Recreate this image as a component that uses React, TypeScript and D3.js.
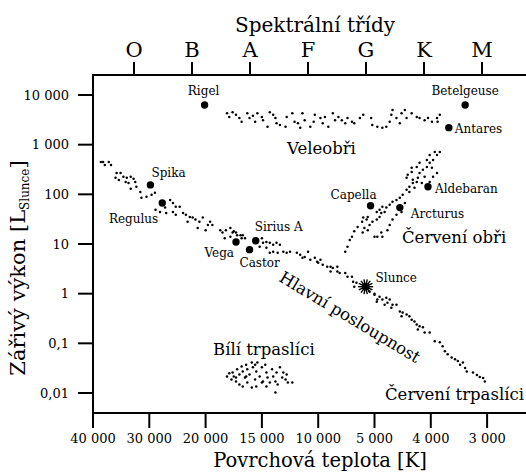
import React from 'react';
import * as d3 from 'd3';

// axis ticks
const tempTicks = [40000, 30000, 20000, 15000, 10000, 5000, 4000, 3000];
const tempTickLabels = ['40 000', '30 000', '20 000', '15 000', '10 000', '5 000', '4 000', '3 000'];
const lumTicks = [10000, 1000, 100, 10, 1, 0.1, 0.01];
const lumTickLabels = ['10 000', '1 000', '100', '10', '1', '0,1', '0,01'];
const spectralClasses = ['O', 'B', 'A', 'F', 'G', 'K', 'M'];

// [temperature K, luminosity L_sun]
const mainSequence: [number, number][] = [
  [38600, 450], [38200, 450], [37900, 390], [37200, 450], [36800, 390],
  [35800, 270], [35100, 270], [36000, 215], [35400, 195], [34600, 225],
  [34000, 215], [33300, 225], [32800, 205], [32500, 178], [33700, 170],
  [34200, 178], [33300, 130], [32300, 142], [31600, 112], [31400, 85],
  [30500, 89], [29600, 98], [29000, 107], [26300, 77], [25800, 67],
  [25300, 56], [24600, 56], [28900, 49], [28100, 44], [27200, 54],
  [27000, 42], [25800, 44], [25300, 39], [24000, 42], [23500, 39],
  [22800, 35], [22300, 34], [23200, 28], [21800, 31], [21100, 28],
  [20500, 34], [19600, 28], [19800, 24], [21400, 21], [20000, 19],
  [19400, 24], [18700, 19], [18500, 17], [18200, 19], [17800, 21],
  [17500, 18], [18300, 13], [17300, 17], [16900, 15], [16800, 13],
  [17800, 14], [17600, 17], [17200, 15], [16700, 15], [16500, 13],
  [15400, 12], [15000, 13], [14900, 10.6], [14600, 11], [15200, 8.8],
  [14600, 8.4], [14300, 10.6], [14000, 9.7], [13700, 10.6], [13400, 9.7],
  [14300, 6.7], [14000, 7.0], [13600, 6.7], [13100, 7.0], [12800, 6.7],
  [12500, 7.0], [11900, 6.7], [11600, 6.1], [11400, 5.3], [11200, 5.5],
  [10900, 7.0], [10700, 4.8], [10300, 5.3], [10100, 4.4], [9800, 4.8],
  [10000, 4.2], [9600, 3.8], [9200, 3.5], [8900, 3.5], [8700, 3.3],
  [8300, 3.5], [8900, 2.8], [8300, 2.8], [8100, 2.6], [7600, 2.6],
  [7400, 2.2], [7000, 2.2], [6900, 1.74], [6600, 1.66], [6800, 1.38],
  [5440, 1.1], [5000, 0.95], [4910, 0.87], [4860, 0.76], [4790, 0.83],
  [4730, 0.76], [4680, 0.6], [4950, 0.76], [4820, 0.6], [4770, 0.66],
  [4700, 0.52], [5000, 1.0], [4960, 0.69], [4610, 0.6], [4550, 0.44],
  [4500, 0.42], [4430, 0.38], [4520, 0.35], [4380, 0.35], [4340, 0.3],
  [4290, 0.275], [4250, 0.24], [4200, 0.22], [4140, 0.21], [4230, 0.19],
  [4110, 0.166], [4020, 0.166], [3930, 0.11], [3840, 0.105], [3790, 0.087],
  [3750, 0.069], [3700, 0.06], [3630, 0.052], [3570, 0.048], [3520, 0.044],
  [3480, 0.037], [3430, 0.041], [3390, 0.032], [3360, 0.027], [3250, 0.026],
  [3180, 0.023], [3130, 0.021], [3070, 0.02], [3040, 0.017],
];

const supergiants: [number, number][] = [
  [18100, 4300], [17900, 3600], [17600, 4500], [17300, 4000], [17000, 3450],
  [16800, 2900], [16300, 4300], [16100, 3450], [15800, 3800], [15600, 2900],
  [15400, 4300], [15000, 3600], [14900, 3100], [14500, 2300], [14300, 4500],
  [14000, 4000], [13800, 3450], [13700, 2700], [13400, 2500], [12900, 2300],
  [12800, 3600], [12300, 4300], [12100, 2900], [11800, 2700], [11600, 2200],
  [11400, 4300], [11200, 3100], [10700, 2300], [10400, 2900], [10300, 4000],
  [9800, 3450], [9600, 2700], [9400, 3600], [9100, 2300], [8700, 4300],
  [8500, 3100], [8200, 3600], [7900, 3100], [7600, 2700], [7400, 3450],
  [7000, 2900], [6800, 2700], [6300, 3450], [6000, 4000], [5300, 3450],
  [5200, 2500], [4950, 2300], [4860, 2200], [4790, 2300], [4730, 2900],
  [4700, 4000], [4680, 5000], [4610, 3450], [4550, 2700], [4520, 4300],
  [4460, 5000], [4430, 3450], [4340, 4300], [4250, 3600], [4200, 3450],
  [4110, 3100], [4050, 3450], [3980, 2900], [3890, 3450], [3880, 2900],
  [3840, 4000],
];

const redGiants: [number, number][] = [
  [7600, 7.0], [7400, 8.8], [7200, 12], [7000, 14], [6800, 18],
  [6500, 22], [6100, 28], [6000, 34], [5700, 31], [5600, 35],
  [5900, 21], [5600, 19], [6050, 17], [5440, 24], [5180, 28],
  [4960, 31], [4910, 35], [4880, 42], [4820, 44], [4790, 54],
  [4960, 44], [4910, 49], [4860, 56], [4730, 62], [4680, 71],
  [4610, 77], [4550, 85], [4500, 98], [4430, 123], [4380, 142],
  [4320, 170], [4250, 178], [4290, 135], [4380, 112], [5000, 14],
  [4950, 14], [4880, 17], [4860, 14], [4770, 19], [4730, 24],
  [4680, 31], [4610, 39], [4520, 44], [4460, 67], [4410, 247],
  [4340, 283], [4430, 215], [4320, 196], [4230, 215], [4200, 270],
  [4140, 311], [4070, 357], [4020, 430], [3960, 493], [3890, 622],
  [3840, 714], [3890, 270], [3960, 225], [4020, 178], [4110, 225],
  [4160, 170], [4070, 493], [4020, 622], [3980, 341], [3930, 714],
  [4250, 357], [4200, 430], [4340, 341],
];

const whiteDwarfs: [number, number][] = [
  [18100, 0.0215], [17900, 0.025], [17600, 0.026], [17500, 0.0215], [17700, 0.0187],
  [17300, 0.017], [17200, 0.03], [17000, 0.0235], [16800, 0.034], [16700, 0.027],
  [16500, 0.0205], [16400, 0.037], [16300, 0.03], [16100, 0.0235], [15900, 0.041],
  [15800, 0.033], [15600, 0.037], [15500, 0.027], [15600, 0.0187], [15400, 0.041],
  [16300, 0.0163], [16700, 0.0135], [17000, 0.0148], [15900, 0.0129], [15200, 0.0215],
  [15000, 0.033], [14900, 0.017], [14700, 0.037], [14600, 0.026], [14500, 0.0205],
  [14300, 0.0163], [14600, 0.0135], [14100, 0.03], [14000, 0.0215], [13800, 0.017],
  [13700, 0.026], [13600, 0.0148], [13400, 0.033], [13200, 0.0205], [13100, 0.026],
  [12900, 0.0187], [12800, 0.0235], [12700, 0.0163], [12300, 0.0163], [13800, 0.0102],
  [15000, 0.0163], [15500, 0.0135], [16400, 0.0215], [17300, 0.0205],
];

const starNames = ['Rigel', 'Betelgeuse', 'Antares', 'Spika', 'Regulus', 'Vega', 'Sirius A', 'Castor', 'Capella', 'Arcturus', 'Aldebaran'];
const starTemps = [20180, 3390, 3680, 29800, 27700, 17300, 15550, 16100, 5350, 4550, 4050];
const starLums = [6300, 6300, 2200, 155, 67, 11, 11.6, 7.7, 59, 54, 142];
const sun = { name: 'Slunce', temp: 5790, lum: 1.38 };

// label placement per star: [dx, dy, anchor]
const labelPos: Record<string, [number, number, string]> = {
  Rigel: [-1, -10, 'middle'],
  Betelgeuse: [0, -10, 'middle'],
  Antares: [6, 5, 'start'],
  Spika: [1, -8, 'start'],
  Regulus: [-4, 20, 'end'],
  Vega: [-2, 15, 'end'],
  'Sirius A': [-1, -10, 'start'],
  Castor: [-10, 17, 'start'],
  Capella: [6, -7, 'end'],
  Arcturus: [11, 10, 'start'],
  Aldebaran: [7, 6, 'start'],
};

const W = 526;
const H = 472;
const left = 93;
const top = 75;
const bottom = 413;
const FONT = '"DejaVu Serif", serif';

export default function App() {
  const x = d3
    .scaleLinear()
    .domain(tempTicks)
    .range(tempTicks.map((_, i) => left + i * 56.3));
  const y = d3.scaleLog().domain([0.01, 10000]).range([393, 95]);
  const spec = d3.scalePoint<string>().domain(spectralClasses).range([134, 482]);

  const dots = [...mainSequence, ...supergiants, ...redGiants, ...whiteDwarfs];
  const sx = x(sun.temp);
  const sy = y(sun.lum);

  return (
    <svg width={W} height={H} style={{ position: 'absolute', left: 0, top: 0, background: '#fff' }} fontFamily={FONT}>
      {/* frame */}
      <line x1={left} x2={W} y1={top} y2={top} stroke="#000" strokeWidth={2} />
      <line x1={left} x2={left} y1={top - 1} y2={bottom + 1} stroke="#000" strokeWidth={2} />
      <line x1={left} x2={W} y1={bottom} y2={bottom} stroke="#000" strokeWidth={2} />

      {/* top axis: spectral classes */}
      {spectralClasses.map((c) => (
        <g key={c}>
          <line x1={spec(c)} x2={spec(c)} y1={top} y2={top - 13} stroke="#000" strokeWidth={2} />
          <text x={spec(c)} y={57} textAnchor="middle" fontSize={21}>{c}</text>
        </g>
      ))}
      <text x={315} y={32} textAnchor="middle" fontSize={20}>Spektrální třídy</text>

      {/* bottom axis: temperature */}
      {tempTicks.map((t, i) => (
        <g key={t}>
          <line x1={x(t)} x2={x(t)} y1={bottom} y2={bottom + 15} stroke="#000" strokeWidth={2} />
          <text x={x(t)} y={443} textAnchor="middle" fontSize={13}>{tempTickLabels[i]}</text>
        </g>
      ))}
      <text x={320} y={467} textAnchor="middle" fontSize={19.5}>Povrchová teplota [K]</text>

      {/* left axis: luminosity */}
      {lumTicks.map((l, i) => (
        <g key={l}>
          <line x1={left} x2={left - 15} y1={y(l)} y2={y(l)} stroke="#000" strokeWidth={2} />
          <text x={69} y={y(l)} dy="0.35em" textAnchor="end" fontSize={13}>{lumTickLabels[i]}</text>
        </g>
      ))}
      <text transform="translate(25,268) rotate(-90)" textAnchor="middle" fontSize={21}>
        Zářivý výkon [L<tspan fontSize={12} dy={4}>Slunce</tspan><tspan dy={-4}>]</tspan>
      </text>

      {/* star dots */}
      {dots.map((d, i) => (
        <circle key={i} cx={x(d[0])} cy={y(d[1])} r={1.25} fill="#000" />
      ))}

      {/* named stars */}
      {starNames.map((n, i) => {
        const cx = x(starTemps[i]);
        const cy = y(starLums[i]);
        const [dx, dy, anchor] = labelPos[n];
        return (
          <g key={n}>
            <circle cx={cx} cy={cy} r={3.7} fill="#000" />
            <text x={cx + dx} y={cy + dy} textAnchor={anchor as any} fontSize={12}>{n}</text>
          </g>
        );
      })}

      {/* sun */}
      {d3.range(14).map((i) => {
        const a = (i / 14) * Math.PI * 2;
        return (
          <line key={i} x1={sx} y1={sy} x2={sx + Math.cos(a) * 7.5} y2={sy + Math.sin(a) * 7.5} stroke="#000" strokeWidth={1.4} />
        );
      })}
      <circle cx={sx} cy={sy} r={3.8} fill="#000" />
      <text x={sx + 10} y={sy - 5} fontSize={12}>{sun.name}</text>

      {/* region labels */}
      <text x={287} y={154} fontSize={16.5}>Veleobři</text>
      <text x={402} y={243} fontSize={16.5}>Červení obři</text>
      <text x={213} y={355} fontSize={16.5}>Bílí trpaslíci</text>
      <text x={385} y={400} fontSize={16.5}>Červení trpaslíci</text>
      <text transform="translate(347,322) rotate(31)" textAnchor="middle" fontSize={16.5}>Hlavní posloupnost</text>
    </svg>
  );
}
